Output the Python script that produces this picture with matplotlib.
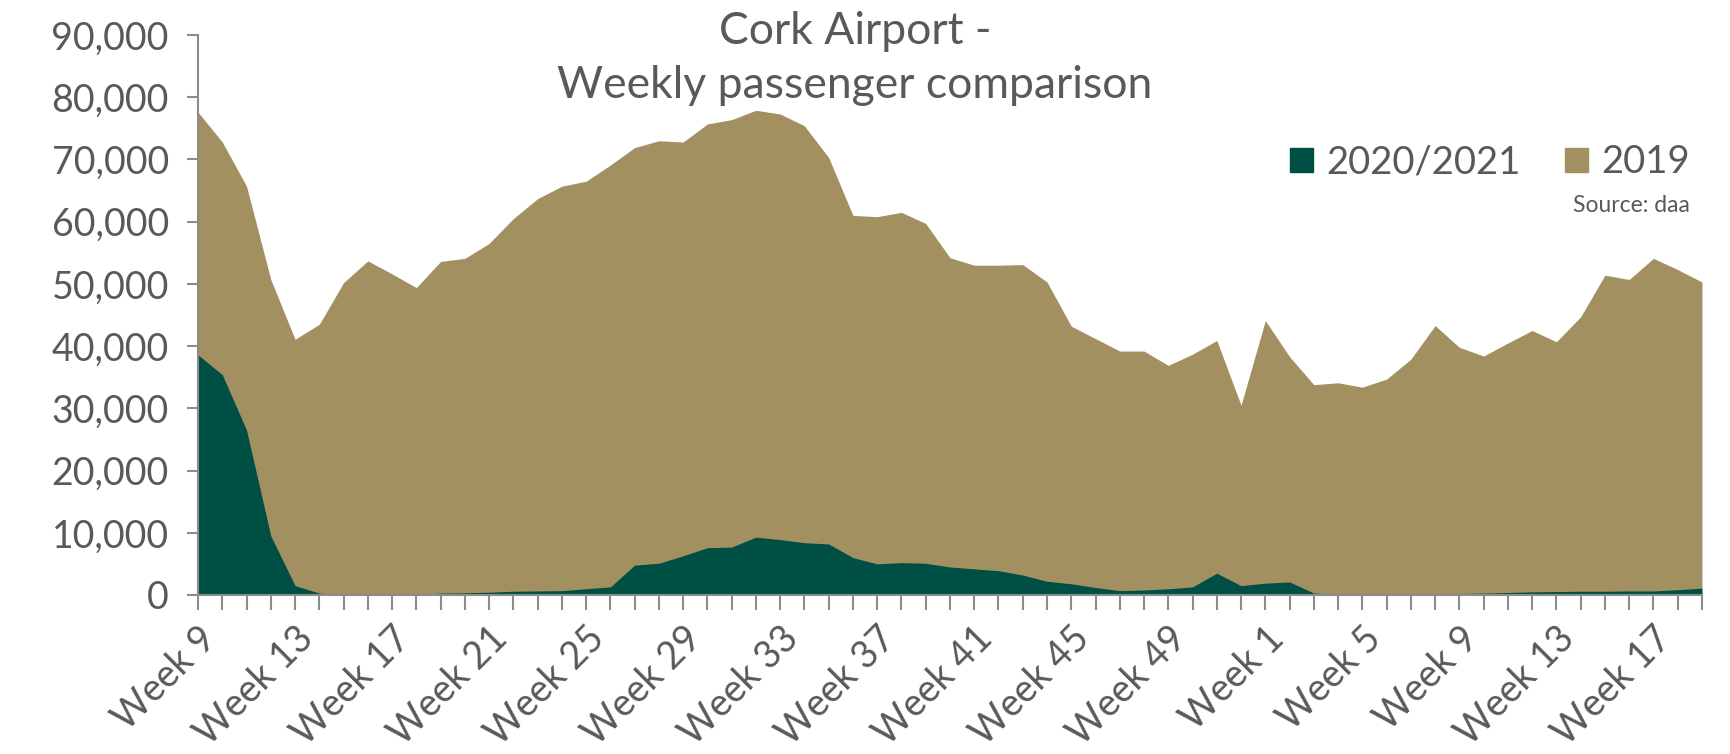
import numpy as np
import matplotlib
matplotlib.use('Agg')
import matplotlib.pyplot as plt
from matplotlib.patches import Patch
from matplotlib.ticker import FuncFormatter

plt.rcParams['font.family'] = ['Lato', 'DejaVu Sans']

# categories: Week 9..52 of 2020, then Week 1..19 of 2021
week_numbers = [9, 10, 11, 12, 13, 14, 15, 16, 17, 18, 19, 20, 21, 22, 23, 24,
                25, 26, 27, 28, 29, 30, 31, 32, 33, 34, 35, 36, 37, 38, 39, 40,
                41, 42, 43, 44, 45, 46, 47, 48, 49, 50, 51, 52,
                1, 2, 3, 4, 5, 6, 7, 8, 9, 10, 11, 12, 13, 14, 15, 16, 17, 18, 19]

pax_2019 = [77600, 72800, 65700, 50700, 41100, 43500, 50200, 53700, 51600, 49400,
            53600, 54100, 56500, 60500, 63700, 65700, 66500, 69100, 71900, 73000,
            72800, 75700, 76400, 77900, 77300, 75400, 70300, 61000, 60800, 61500,
            59700, 54200, 53000, 53000, 53100, 50300, 43200, 41200, 39200, 39200,
            36900, 38700, 40900, 30500, 44100, 38300, 33800, 34100, 33400, 34700,
            37900, 43300, 39800, 38400, 40500, 42500, 40700, 44700, 51400, 50700,
            54100, 52300, 50300]

pax_2020_21 = [38600, 35400, 26500, 9500, 1500, 300, 100, 100, 100, 100,
               300, 350, 450, 600, 650, 700, 1000, 1300, 4800, 5100,
               6300, 7600, 7700, 9300, 8900, 8400, 8200, 6000, 5000, 5200,
               5100, 4500, 4200, 3900, 3200, 2200, 1800, 1200, 700, 800,
               1000, 1300, 3500, 1500, 1900, 2100, 300, 150, 150, 150,
               200, 150, 250, 300, 400, 500, 550, 600, 600, 650,
               650, 850, 1100]

green = '#004F44'
tan = '#A39060'
grey = '#595959'
axis_grey = '#8C8C8C'

x = np.arange(len(week_numbers))
labels = ['Week %d' % w for w in week_numbers]

fig = plt.figure(figsize=(17.31, 7.54), dpi=100)
ax = fig.add_axes([0.1144, 0.2109, 0.8688, 0.7427])

ax.fill_between(x, 0, pax_2019, color=tan, linewidth=0, label='2019')
ax.fill_between(x, 0, pax_2020_21, color=green, linewidth=0, label='2020/2021')

ax.set_xlim(0, len(x) - 1)
ax.set_ylim(0, 90000)
ax.set_yticks(np.arange(0, 90001, 10000))
ax.yaxis.set_major_formatter(FuncFormatter(lambda v, p: '{:,.0f}'.format(v)))

ax.set_xticks(x)
ax.set_xticklabels([lab if i % 4 == 0 else '' for i, lab in enumerate(labels)],
                   rotation=45, ha='right', rotation_mode='anchor')

for s in ['top', 'right']:
    ax.spines[s].set_visible(False)
for s in ['left', 'bottom']:
    ax.spines[s].set_color(axis_grey)
    ax.spines[s].set_linewidth(1.5)

ax.tick_params(axis='y', colors=axis_grey, labelcolor=grey, labelsize=27,
               length=8, width=1.5, pad=13)
ax.tick_params(axis='x', colors=axis_grey, labelcolor=grey, labelsize=27,
               length=11, width=1.5, pad=7)

fig.text(0.494, 0.958, 'Cork Airport -', ha='center', va='center',
         fontsize=32, color=grey)
fig.text(0.494, 0.886, 'Weekly passenger comparison', ha='center', va='center',
         fontsize=32, color=grey)

handles = [Patch(color=green, label='2020/2021'), Patch(color=tan, label='2019')]
fig.legend(handles=handles, loc='center right', bbox_to_anchor=(0.996, 0.785),
           ncol=2, frameon=False, fontsize=27.5, labelcolor=grey,
           handlelength=0.6, handleheight=0.6, handletextpad=0.35,
           columnspacing=1.15)

fig.text(0.976, 0.727, 'Source: daa', ha='right', va='center',
         fontsize=16.5, color=grey)

fig.savefig('out.png', dpi=100)
